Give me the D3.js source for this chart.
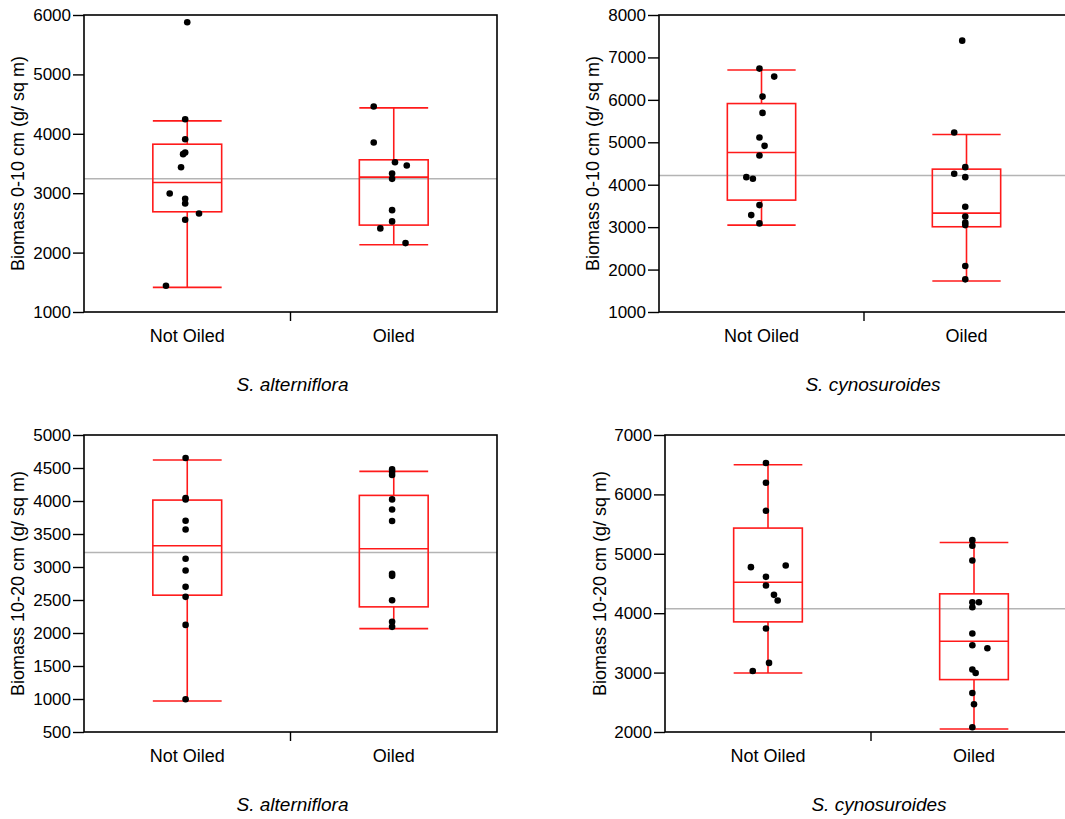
<!DOCTYPE html>
<html lang="en">
<head>
<meta charset="UTF-8">
<script src="https://d3js.org/d3.v7.min.js"></script>
<title>Biomass boxplots</title>
<style>
  body { margin: 0; background: #fff; }
  svg { display: block; }
  .tick text { font-family: "Liberation Sans", Arial, sans-serif; font-size: 17px; fill: #000; }
  .ylab { font-family: "Liberation Sans", Arial, sans-serif; font-size: 18px; }
  .cat { font-family: "Liberation Sans", Arial, sans-serif; font-size: 18px; }
  .caption { font-family: "Liberation Sans Narrow", "Arial Narrow", "Liberation Sans", sans-serif; font-style: italic; font-size: 19px; }
</style>
</head>
<body>
<svg id="chart" width="1065" height="819"></svg>
<script>
// categories
var groups = ["Not Oiled", "Oiled"];

// S. alterniflora, 0-10 cm
var alt010NotOiled = [5877, 4246, 3909, 3657, 3685, 3438, 2996, 2906, 2827, 2659, 2553, 1443];
var alt010NotOiledJit = [0, -.01, -.01, -.02, -.01, -.03, -.085, -.01, -.01, .057, -.01, -.103];
var alt010Oiled = [4459, 3853, 3522, 3466, 3332, 3242, 2715, 2525, 2407, 2160];
var alt010OiledJit = [-.097, -.097, .006, .063, -.008, -.008, -.008, -.008, -.065, .057];
var alt010Box = [[1415, 2687, 3180, 3825, 4218], [2132, 2463, 3270, 3562, 4436]];
var alt010Mean = 3242;

// S. cynosuroides, 0-10 cm
var cyn010NotOiled = [6737, 6548, 6077, 5693, 5112, 4916, 4688, 4178, 4139, 3519, 3284, 3088];
var cyn010NotOiledJit = [-.01, .062, .005, .005, -.01, .015, -.01, -.074, -.042, -.01, -.05, -.01];
var cyn010Oiled = [7396, 5230, 4414, 4257, 4178, 3480, 3252, 3111, 3048, 2083, 1769];
var cyn010OiledJit = [-.021, -.06, -.006, -.06, -.006, -.006, -.006, -.006, -.006, -.006, -.006];
var cyn010Box = [[3048, 3637, 4759, 5913, 6705], [1730, 3009, 3331, 4367, 5183]];
var cyn010Mean = 4218;

// S. alterniflora, 10-20 cm
var alt1020NotOiled = [4651, 4044, 4024, 3701, 3569, 3124, 2947, 2699, 2548, 2123, 996];
var alt1020NotOiledJit = [-.008, -.008, -.008, -.008, -.008, -.008, -.008, -.008, -.008, -.008, -.008];
var alt1020Oiled = [4479, 4439, 4393, 4024, 3872, 3696, 2897, 2866, 2497, 2169, 2093];
var alt1020OiledJit = [-.008, -.008, -.008, -.008, -.008, -.008, -.008, -.008, -.008, -.008, -.008];
var alt1020Box = [[970, 2573, 3321, 4014, 4621], [2067, 2396, 3276, 4085, 4449]];
var alt1020Mean = 3220;

// S. cynosuroides, 10-20 cm
var cyn1020NotOiled = [6528, 6197, 5725, 4775, 4803, 4612, 4466, 4309, 4213, 3742, 3163, 3028];
var cyn1020NotOiledJit = [-.01, -.01, -.01, -.083, .086, -.01, -.01, .029, .047, -.01, .005, -.074];
var cyn1020Oiled = [5230, 5135, 4888, 4185, 4185, 4101, 3657, 3461, 3410, 3051, 2994, 2657, 2466, 2079];
var cyn1020OiledJit = [-.008, -.008, -.008, -.008, .024, -.008, -.008, -.008, .065, -.008, .008, -.008, 0, -.008];
var cyn1020Box = [[2994, 3854, 4522, 5433, 6500], [2051, 2882, 3528, 4326, 5191]];
var cyn1020Mean = 4073;

// y tick labels
var ticksAlt010 = [1000, 2000, 3000, 4000, 5000, 6000];
var ticksCyn010 = [1000, 2000, 3000, 4000, 5000, 6000, 7000, 8000];
var ticksAlt1020 = [500, 1000, 1500, 2000, 2500, 3000, 3500, 4000, 4500, 5000];
var ticksCyn1020 = [2000, 3000, 4000, 5000, 6000, 7000];

var svg = d3.select("#chart");

function drawPanel(p) {
  var g = svg.append("g");
  var x = d3.scaleBand().domain(groups).range([p.left, p.right]);
  var y = d3.scaleLinear().domain(d3.extent(p.ticks)).range([p.bottom, p.top]);
  var step = x.bandwidth();
  var cx = function(k) { return x(k) + step / 2; };
  var boxW = step / 3;

  // grand mean line
  g.append("line")
    .attr("x1", p.left).attr("x2", p.right)
    .attr("y1", y(p.mean)).attr("y2", y(p.mean))
    .attr("stroke", "#b4b4b4").attr("stroke-width", 1.5);

  // boxes
  groups.forEach(function(k, i) {
    var b = p.box[i], c = cx(k);
    var bg = g.append("g").attr("stroke", "#ff1a1a").attr("stroke-width", 1.6).attr("fill", "none");
    bg.append("line").attr("x1", c).attr("x2", c).attr("y1", y(b[0])).attr("y2", y(b[1]));
    bg.append("line").attr("x1", c).attr("x2", c).attr("y1", y(b[3])).attr("y2", y(b[4]));
    bg.append("line").attr("x1", c - boxW / 2).attr("x2", c + boxW / 2).attr("y1", y(b[0])).attr("y2", y(b[0]));
    bg.append("line").attr("x1", c - boxW / 2).attr("x2", c + boxW / 2).attr("y1", y(b[4])).attr("y2", y(b[4]));
    bg.append("rect").attr("x", c - boxW / 2).attr("width", boxW)
      .attr("y", y(b[3])).attr("height", y(b[1]) - y(b[3]));
    bg.append("line").attr("x1", c - boxW / 2).attr("x2", c + boxW / 2).attr("y1", y(b[2])).attr("y2", y(b[2]));
  });

  // points
  groups.forEach(function(k, i) {
    var vals = p.values[i], jit = p.jitter[i];
    g.selectAll(null)
      .data(vals)
      .enter().append("circle")
      .attr("cx", function(d, j) { return cx(k) + jit[j] * step; })
      .attr("cy", function(d) { return y(d); })
      .attr("r", 3.3)
      .attr("fill", "#000");
  });

  // frame
  g.append("rect")
    .attr("x", p.left).attr("y", p.top)
    .attr("width", p.right - p.left).attr("height", p.bottom - p.top)
    .attr("fill", "none").attr("stroke", "#000").attr("stroke-width", 1.6);

  // y axis
  var yAxis = d3.axisLeft(y).tickValues(p.ticks).tickSize(11).tickPadding(2).tickFormat(d3.format("d"));
  var ya = g.append("g").attr("transform", "translate(" + p.left + ",0)").call(yAxis);
  ya.select(".domain").remove();
  ya.selectAll(".tick line").attr("stroke", "#000").attr("stroke-width", 1.4);

  // x axis: category labels and the divider tick
  var xa = g.append("g").attr("transform", "translate(0," + p.bottom + ")")
    .call(d3.axisBottom(x).tickSize(0).tickPadding(17));
  xa.select(".domain").remove();
  xa.selectAll(".tick text").attr("class", "cat").style("font-size", "18px");
  g.append("line")
    .attr("x1", x(groups[1])).attr("x2", x(groups[1]))
    .attr("y1", p.bottom).attr("y2", p.bottom + 9)
    .attr("stroke", "#000").attr("stroke-width", 1.4);

  // y label
  g.append("text")
    .attr("class", "ylab")
    .attr("transform", "translate(" + p.labX + "," + ((p.top + p.bottom) / 2) + ") rotate(-90)")
    .attr("text-anchor", "middle")
    .attr("dy", "0.35em")
    .text(p.ylabel);

  // species caption
  g.append("text")
    .attr("class", "caption")
    .attr("x", (p.left + p.right) / 2 + p.capShift)
    .attr("y", p.bottom + 79)
    .attr("text-anchor", "middle")
    .text(p.caption);
}

drawPanel({left: 84, right: 497, top: 15, bottom: 312, labX: 18, capShift: 2,
  ticks: ticksAlt010, values: [alt010NotOiled, alt010Oiled], jitter: [alt010NotOiledJit, alt010OiledJit],
  box: alt010Box, mean: alt010Mean, ylabel: "Biomass 0-10 cm (g/ sq m)", caption: "S. alterniflora"});

drawPanel({left: 659, right: 1069, top: 15, bottom: 312, labX: 593, capShift: 9,
  ticks: ticksCyn010, values: [cyn010NotOiled, cyn010Oiled], jitter: [cyn010NotOiledJit, cyn010OiledJit],
  box: cyn010Box, mean: cyn010Mean, ylabel: "Biomass 0-10 cm (g/ sq m)", caption: "S. cynosuroides"});

drawPanel({left: 84, right: 497, top: 435, bottom: 732, labX: 18, capShift: 2,
  ticks: ticksAlt1020, values: [alt1020NotOiled, alt1020Oiled], jitter: [alt1020NotOiledJit, alt1020OiledJit],
  box: alt1020Box, mean: alt1020Mean, ylabel: "Biomass 10-20 cm (g/ sq m)", caption: "S. alterniflora"});

drawPanel({left: 665, right: 1077, top: 435, bottom: 732, labX: 600, capShift: 8,
  ticks: ticksCyn1020, values: [cyn1020NotOiled, cyn1020Oiled], jitter: [cyn1020NotOiledJit, cyn1020OiledJit],
  box: cyn1020Box, mean: cyn1020Mean, ylabel: "Biomass 10-20 cm (g/ sq m)", caption: "S. cynosuroides"});
</script>
</body>
</html>
